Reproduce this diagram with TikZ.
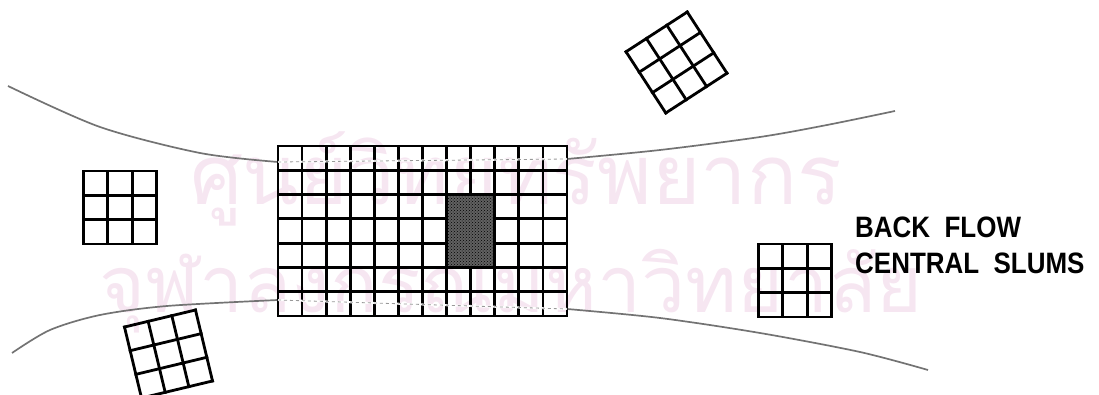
\documentclass[tikz,border=0pt]{standalone}
\usepackage{fontspec}
\setmainfont{Liberation Sans}
\newfontfamily\thaifont[Script=Thai]{Loma}
\usepackage{graphicx}
\usepackage{tikz}
\usetikzlibrary{patterns}
\definecolor{wmpink}{RGB}{246,230,241}
\newcommand{\slimtext}[1]{\scalebox{0.88}[1]{#1}}

\begin{document}
\begin{tikzpicture}[x=1pt,y=1pt,
  gridline/.style={line width=2.8pt,line cap=rect},
  bank/.style={draw=black!55,line width=1.7pt},
  bankgap/.style={draw=white,line width=2pt},
  bankdash/.style={draw=black!40,line width=0.8pt,dash pattern=on 3pt off 3pt},
  wmark/.style={text=wmpink,inner sep=0,anchor=base west},
  slumtext/.style={font=\fontsize{29.5}{29.5}\selectfont\bfseries,inner sep=0,anchor=base west},
  block/.pic={
    \foreach \k in {0,...,3} {
      \draw[gridline] ({-36.5+\k*24.333},-36.5) -- ++(0,73);
      \draw[gridline] (-36.5,{-36.5+\k*24.333}) -- ++(73,0);
    }
  }
]
\useasboundingbox (0,0) rectangle (1099,395);

% watermark
\node[wmark] (wmTop) at (190,190) {\resizebox{652pt}{!}{\thaifont ศูนย์วิทยทรัพยากร}};
\node[wmark] (wmBottom) at (99,82) {\resizebox{823pt}{!}{\thaifont จุฬาลงกรณ์มหาวิทยาลัย}};

% river banks
\coordinate (topIn) at (278,233);
\coordinate (topOut) at (567,236);
\coordinate (botIn) at (278,95);
\coordinate (botOut) at (567,86);
\draw[bank] plot[smooth] coordinates {(8,309) (100,268) (200,242) (topIn)};
\draw[bank] plot[smooth] coordinates {(topOut) (660,245) (760,258) (827,270) (895,284)};
\draw[bank] plot[smooth] coordinates {(12,42) (50,65) (100,80) (167,89) (botIn)};
\draw[bank] plot[smooth] coordinates {(botOut) (660,77) (760,62) (860,43) (928,25)};

% central grid
\foreach \i in {0,...,12}
  \draw[gridline] ({278+\i*24.083},79) -- ++(0,170);
\foreach \j in {0,...,7}
  \draw[gridline] (278,{79+\j*24.286}) -- ++(289,0);

\coordinate (shadeSW) at (446.6,127.6);
\coordinate (shadeNE) at (494.7,200.4);
\fill[black!62] (shadeSW) rectangle (shadeNE);
\fill[pattern=crosshatch dots,pattern color=black] (shadeSW) rectangle (shadeNE);
\draw[gridline] (shadeSW) rectangle (shadeNE);

\draw[bankgap] (topIn) -- (topOut);
\draw[bankdash] (topIn) -- (topOut);
\draw[bankgap] (botIn) -- (botOut);
\draw[bankdash] (botIn) -- (botOut);

% small blocks
\pic (blkWest) at (120,187.5) {block};
\pic (blkEast) at (795,114.5) {block};
\pic[rotate=33] (blkNorth) at (676.5,332.5) {block};
\pic[rotate=13.5] (blkSouth) at (168.5,41) {block};

\node[slumtext] (backFlow) at (855,157) {\slimtext{BACK\ \ FLOW}};
\node[slumtext] (centralSlums) at (855,121) {\slimtext{CENTRAL\ \ SLUMS}};
\end{tikzpicture}
\end{document}
